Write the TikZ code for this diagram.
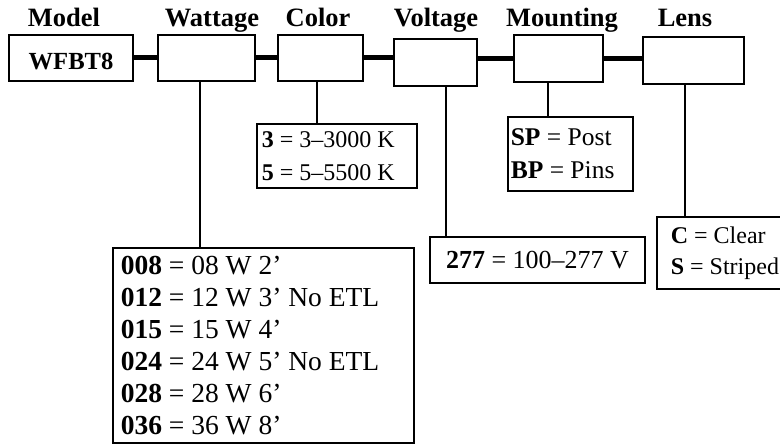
\documentclass[tikz,border=0pt]{standalone}
\usepackage{fontspec}
\setmainfont{Liberation Serif}
\begin{document}
\begin{tikzpicture}[x=1bp,y=-1bp,
  box/.style={draw, line width=2.8bp, inner sep=0pt, rectangle},
  conn/.style={line width=5bp},
  stem/.style={line width=2bp},
  head/.style={font=\fontsize{26.5bp}{30bp}\selectfont\bfseries, anchor=base, inner sep=0pt},
  opt/.style={align=left, inner sep=0pt, anchor=west}]
\clip (0,0) rectangle (780,445);
% headings
\node[head] (hmodel) at (64,27) {Model};
\node[head] (hwatt) at (212,27) {Wattage};
\node[head] (hcolor) at (318,27) {Color};
\node[head] (hvolt) at (436,27) {Voltage};
\node[head] (hmount) at (562,27) {Mounting};
\node[head] (hlens) at (685,27) {Lens};
% top boxes
\node[box, minimum width=124bp, minimum height=46bp] (model) at (71,58) {};
\node[font=\fontsize{24.6bp}{28bp}\selectfont\bfseries, anchor=base, inner sep=0pt] (modeltext) at (71,69.5) {WFBT8};
\node[box, minimum width=97bp, minimum height=46bp] (watt) at (206.5,58) {};
\node[box, minimum width=85bp, minimum height=46bp] (color) at (320.5,58) {};
\node[box, minimum width=83bp, minimum height=47bp] (volt) at (435.5,62.5) {};
\node[box, minimum width=89bp, minimum height=47bp] (mount) at (558.5,58.5) {};
\node[box, minimum width=101bp, minimum height=47bp] (lens) at (693.5,60.5) {};
% option boxes
\node[box, minimum width=301bp, minimum height=195bp] (wattopt) at (263.5,345.5) {};
\node[box, minimum width=160bp, minimum height=64bp] (colopt) at (337,156) {};
\node[box, minimum width=215bp, minimum height=46bp] (voltopt) at (537.5,260) {};
\node[box, minimum width=125bp, minimum height=74bp] (mountopt) at (570.5,154) {};
\node[box, minimum width=130bp, minimum height=72bp] (lensopt) at (722,253) {};
% option texts
\node[opt, font=\fontsize{27.5bp}{32bp}\selectfont] (watttext) at ([xshift=9bp]wattopt.west) {\textbf{008} = 08 W 2’\\\textbf{012} = 12 W 3’ No ETL\\\textbf{015} = 15 W 4’\\\textbf{024} = 24 W 5’ No ETL\\\textbf{028} = 28 W 6’\\\textbf{036} = 36 W 8’};
\node[opt, font=\fontsize{24bp}{33bp}\selectfont] (coltext) at ([xshift=6bp]colopt.west) {\textbf{3} = 3–3000 K\\\textbf{5} = 5–5500 K};
\node[font=\fontsize{26bp}{32bp}\selectfont, inner sep=0pt] (volttext) at (voltopt.center) {\textbf{277} = 100–277 V};
\node[opt, font=\fontsize{25.5bp}{33bp}\selectfont] (mounttext) at ([xshift=4bp]mountopt.west) {\textbf{SP} = Post\\\textbf{BP} = Pins};
\node[opt, font=\fontsize{24bp}{31bp}\selectfont] (lenstext) at ([xshift=15bp]lensopt.west) {\textbf{C} = Clear\\\textbf{S} = Striped};
% connectors
\draw[conn] (model.east) -- (watt.west);
\draw[conn] (watt.east) -- (color.west);
\draw[conn] (color.east) -- (color.east -| volt.west);
\draw[conn] (mount.west -| volt.east) -- (mount.west);
\draw[conn] (mount.east) -- (mount.east -| lens.west);
% stems
\coordinate (sw) at (200,0);
\coordinate (sc) at (317,0);
\coordinate (sv) at (446,0);
\coordinate (sm) at (548,0);
\coordinate (sl) at (685,0);
\draw[stem] (watt.south -| sw) -- (wattopt.north -| sw);
\draw[stem] (color.south -| sc) -- (colopt.north -| sc);
\draw[stem] (volt.south -| sv) -- (voltopt.north -| sv);
\draw[stem] (mount.south -| sm) -- (mountopt.north -| sm);
\draw[stem] (lens.south -| sl) -- (lensopt.north -| sl);
\end{tikzpicture}
\end{document}
